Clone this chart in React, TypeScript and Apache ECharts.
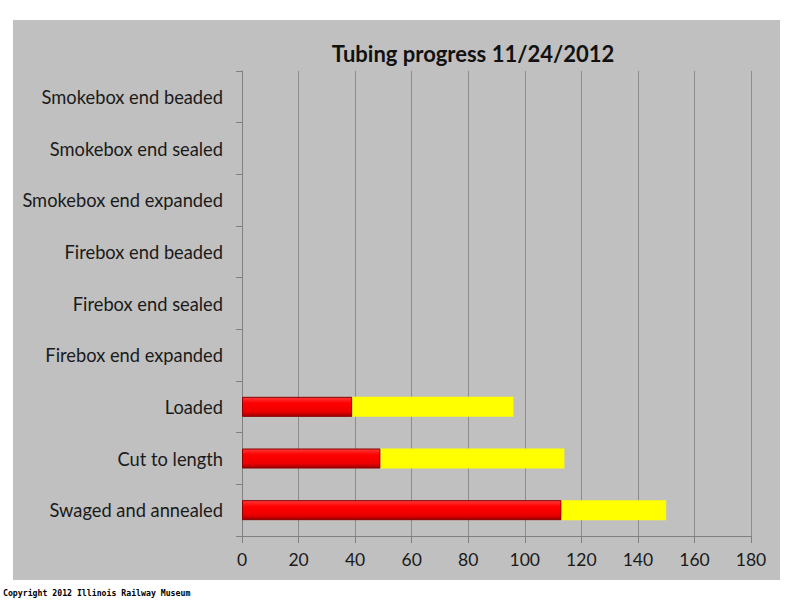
import React, { useEffect, useRef } from "react";
import * as echarts from "echarts";

const categories = [
  "Swaged and annealed",
  "Cut to length",
  "Loaded",
  "Firebox end expanded",
  "Firebox end sealed",
  "Firebox end beaded",
  "Smokebox end expanded",
  "Smokebox end sealed",
  "Smokebox end beaded",
];
const redValues = [113, 49, 39, 0, 0, 0, 0, 0, 0];
const yellowValues = [37, 65, 57, 0, 0, 0, 0, 0, 0];
const titleText = "Tubing progress 11/24/2012";
const copyrightText = "Copyright 2012 Illinois Railway Museum";

const FONT = "Lato, 'Open Sans', sans-serif";

const toBarData = (arr: number[]) => arr.map((v) => (v === 0 ? "-" : v));

export default function App() {
  const ref = useRef<HTMLDivElement>(null);
  useEffect(() => {
    if (!ref.current) return;
    const chart = echarts.init(ref.current, undefined, { renderer: "svg" });
    chart.setOption({
      animation: false,
      backgroundColor: "#ffffff",
      textStyle: { fontFamily: FONT },
      graphic: [
        {
          type: "rect",
          z: -10,
          shape: { x: 13, y: 20, width: 767, height: 560 },
          style: { fill: "#c0c0c0" },
          silent: true,
        },
        {
          type: "text",
          x: 473,
          y: 53,
          style: {
            text: titleText,
            fill: "#111111",
            font: `bold 22px ${FONT}`,
            align: "center",
            verticalAlign: "middle",
          },
        },
        {
          type: "text",
          x: 3,
          y: 593,
          style: {
            text: copyrightText,
            fill: "#000000",
            font: "bold 8.2px 'DejaVu Sans Mono', monospace",
            align: "left",
            verticalAlign: "middle",
          },
        },
      ],
      grid: { left: 242, right: 49, top: 71, bottom: 64, containLabel: false },
      xAxis: {
        type: "value",
        min: 0,
        max: 180,
        interval: 20,
        axisLine: { show: true, lineStyle: { color: "#808080", width: 1 } },
        axisTick: { show: true, length: 7, lineStyle: { color: "#808080" } },
        axisLabel: { fontSize: 17.5, color: "#1a1a1a", margin: 14, fontFamily: FONT },
        splitLine: { show: true, lineStyle: { color: "#8c8c8c", width: 1 } },
      },
      yAxis: {
        type: "category",
        data: categories,
        axisLine: { show: true, lineStyle: { color: "#808080", width: 1 } },
        axisTick: { show: true, length: 6, lineStyle: { color: "#808080" } },
        axisLabel: { fontSize: 18.3, color: "#1a1a1a", margin: 19, fontFamily: FONT },
        splitLine: { show: false },
      },
      series: [
        {
          type: "bar",
          stack: "total",
          data: toBarData(redValues),
          barWidth: 20,
          itemStyle: {
            color: new echarts.graphic.LinearGradient(0, 0, 0, 1, [
              { offset: 0, color: "#ff3a3a" },
              { offset: 0.3, color: "#ff0000" },
              { offset: 0.75, color: "#ee0000" },
              { offset: 1, color: "#a00000" },
            ]),
            borderColor: "#8a0000",
            borderWidth: 1,
          },
        },
        {
          type: "bar",
          stack: "total",
          data: toBarData(yellowValues),
          barWidth: 20,
          itemStyle: { color: "#ffff00" },
        },
      ],
    });
    return () => chart.dispose();
  }, []);
  return (
    <div
      ref={ref}
      style={{ position: "fixed", left: 0, top: 0, width: 800, height: 600 }}
    />
  );
}
